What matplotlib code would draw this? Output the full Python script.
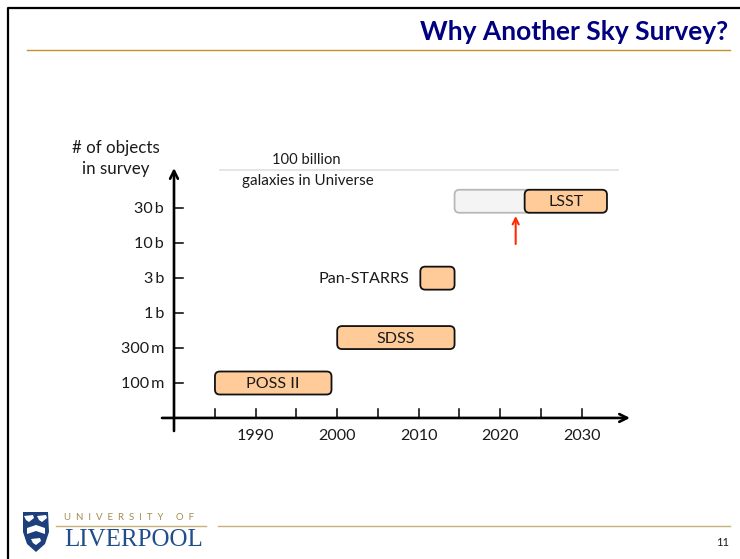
import matplotlib
matplotlib.use("Agg")
import matplotlib.pyplot as plt
from matplotlib.patches import FancyBboxPatch, Polygon

# 数据
y_levels = [0, 1, 2, 3, 4, 5]
y_labels = ["100\u2009m", "300\u2009m", "1\u2009b", "3\u2009b", "10\u2009b", "30\u2009b"]
x_ticks = [1985, 1990, 1995, 2000, 2005, 2010, 2015, 2020, 2025, 2030]
x_labels = [1990, 2000, 2010, 2020, 2030]
survey_names = ["POSS II", "SDSS", "", "LSST"]
survey_start = [1985, 2000, 2010.2, 2023]
survey_end = [1999.3, 2014.4, 2014.4, 2033.1]
survey_level = [0, 1.3, 3, 5.2]
planned_start = 2014.4
planned_end = 2023
galaxy_level = 6.09
arrow_year = 2021.9

plt.rcParams["font.family"] = ["Lato", "DejaVu Sans"]
W, H = 740, 559
fig = plt.figure(figsize=(W / 100, H / 100), dpi=100)
ax = fig.add_axes([0, 0, 1, 1])
PX = 8.15     # 每年的像素
PY = 34.95    # 每档的像素
ax.set_xlim(1990 - 255.7 / PX, 1990 + (W - 255.7) / PX)
ax.set_ylim(-(H - 383) / PY, 383 / PY)
ax.axis("off")

def fx(px):
    return 1990 + (px - 255.7) / PX

def fy(py):
    return (383 - py) / PY

FS = 11.6
TXT = "#1a1a1a"
DOWN = 1.2 / PY   # 文字略微下移

# 外框和标题
ax.plot([fx(8.5), fx(8.5), fx(740)], [fy(559), fy(7.5), fy(7.5)], color="black", lw=1.6, solid_capstyle="butt")
ax.plot([fx(27), fx(730)], [fy(50), fy(50)], color="#c2922f", lw=1)
ax.text(fx(728), fy(32.5), "Why Another Sky Survey?", color="#000080", fontsize=19, fontweight="bold",
        ha="right", va="center")

# 坐标轴
ax.annotate("", xy=(fx(174), fy(168)), xytext=(fx(174), fy(431)),
            arrowprops=dict(arrowstyle="->", lw=1.9, color="black", shrinkA=0, shrinkB=0, mutation_scale=14))
ax.annotate("", xy=(fx(630), -1), xytext=(fx(162), -1),
            arrowprops=dict(arrowstyle="->", lw=1.9, color="black", shrinkA=0, shrinkB=0, mutation_scale=14))
for lev, lab in zip(y_levels, y_labels):
    ax.plot([fx(174), fx(183)], [lev, lev], color="black", lw=1.1)
    ax.text(fx(164), lev - DOWN, lab, ha="right", va="center", fontsize=FS, color=TXT)
for yr in x_ticks:
    ax.plot([yr, yr], [-1, fy(409)], color="black", lw=1.1)
for yr in x_labels:
    ax.text(yr, fy(436), str(yr), ha="center", va="center", fontsize=FS, color=TXT)
ax.text(fx(116), fy(148), "# of objects", ha="center", va="center", fontsize=12.2, color=TXT)
ax.text(fx(116), fy(169), "in survey", ha="center", va="center", fontsize=12.2, color=TXT)

# 星系数量的灰线
ax.plot([fx(220), fx(618)], [galaxy_level, galaxy_level], color="#e0e0e0", lw=1.2)
ax.text(fx(306.5), fy(160.5), "100 billion", ha="center", va="center", fontsize=10.6, color=TXT)
ax.text(fx(308), fy(180.5), "galaxies in Universe", ha="center", va="center", fontsize=10.9, color=TXT)

def draw_bar(x0, x1, lev, face, edge):
    h = 23 / PY
    # 圆角要按像素算，两个方向比例不同
    box = FancyBboxPatch((x0, lev - h / 2), x1 - x0, h,
                         boxstyle="round,pad=0,rounding_size=0.6", mutation_aspect=PX / PY,
                         fc=face, ec=edge, lw=1.3, zorder=3)
    ax.add_patch(box)

draw_bar(planned_start, planned_end + 1, survey_level[3], "#f4f4f4", "#b8b8b8")
for name, x0, x1, lev in zip(survey_names, survey_start, survey_end, survey_level):
    draw_bar(x0, x1, lev, "#ffcc99", "#111111")
    if name:
        ax.text((x0 + x1) / 2, lev - DOWN, name, ha="center", va="center", fontsize=FS, color=TXT, zorder=4)
ax.text(fx(409), 3 - DOWN, "Pan-STARRS", ha="right", va="center", fontsize=FS, color=TXT)

ax.annotate("", xy=(arrow_year, fy(216)), xytext=(arrow_year, fy(244)),
            arrowprops=dict(arrowstyle="->", lw=1.5, color="#ff2a00", shrinkA=0, shrinkB=0, mutation_scale=11))

# 页脚
ax.plot([fx(56), fx(206)], [fy(525.5), fy(525.5)], color="#c9b27a", lw=1)
ax.plot([fx(218), fx(730)], [fy(525.5), fy(525.5)], color="#c9b27a", lw=1)
ax.text(fx(729), fy(543), "11", ha="right", va="center", fontsize=8, color=TXT)
ax.text(fx(64), fy(518), "U  N  I  V  E  R  S  I  T  Y     O  F", ha="left", va="center", fontsize=6.9, color="#a08c50")
ax.text(fx(64), fy(540), "LIVERPOOL", ha="left", va="center", fontsize=18, color="#1f4e8c",
        family=["Liberation Serif"])

# 校徽
shield = [(23, 512), (48, 512), (49, 532), (45, 544), (36, 552), (27, 544), (23, 532)]
ax.add_patch(Polygon([(fx(a), fy(b)) for a, b in shield], closed=True, fc="#1d3f7c", ec="none", zorder=3))
ax.add_patch(Polygon([(fx(a), fy(b)) for a, b in [(27, 528), (36, 525), (45, 528), (45, 534), (36, 531), (27, 534)]],
                     closed=True, fc="white", ec="none", zorder=4))
for a, b in [(29, 518), (42, 518), (36, 541)]:
    ax.add_patch(Polygon([(fx(a + p), fy(b + q)) for p, q in [(-5, -2), (4, -3), (5, 0), (0, 4), (-3, 2)]],
                         closed=True, fc="white", ec="none", zorder=4))

fig.savefig("out.png", dpi=100)
